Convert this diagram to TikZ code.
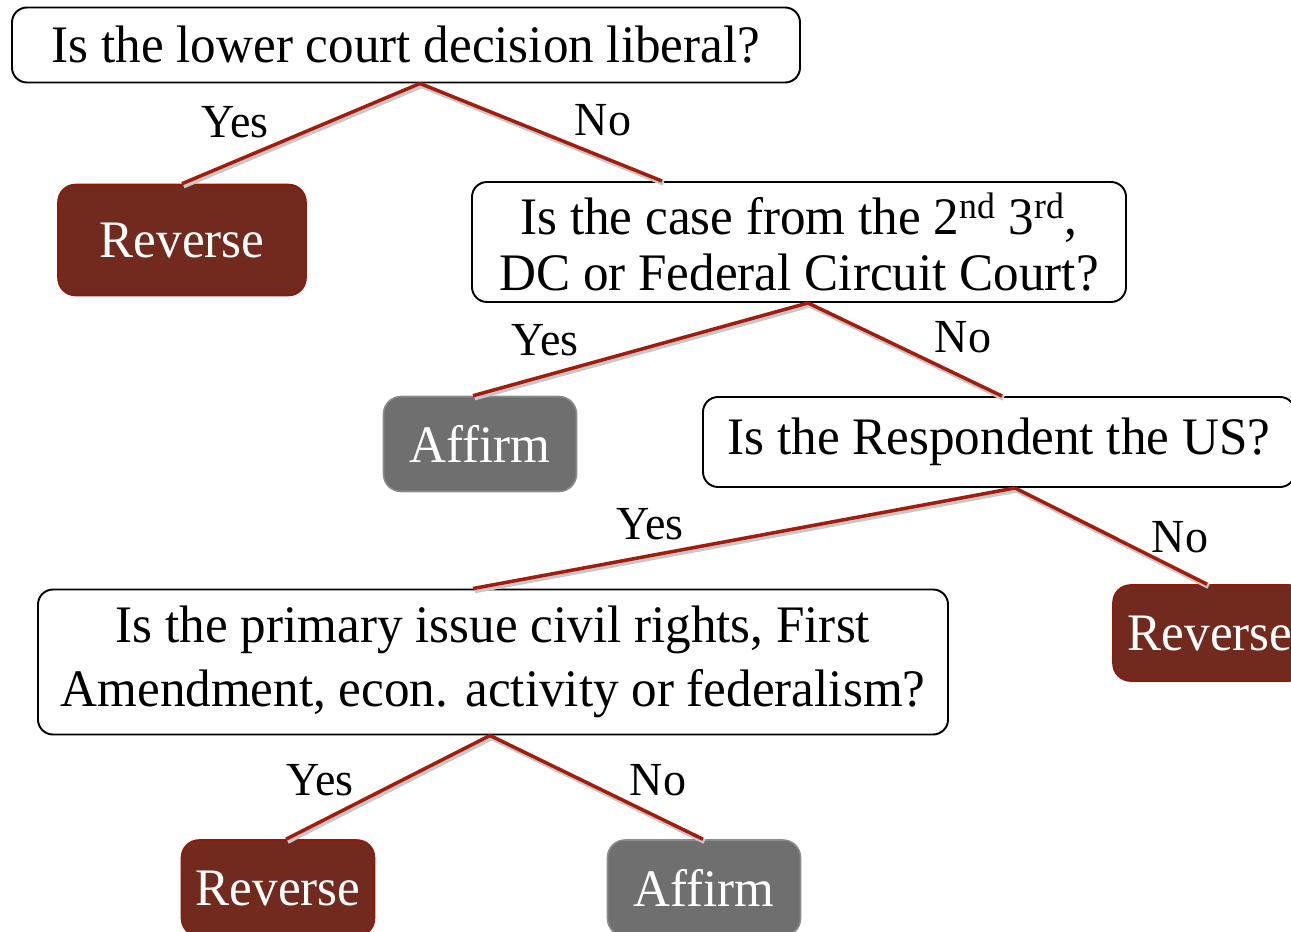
\documentclass[tikz,border=0pt]{standalone}
\usepackage{fontspec}
\setmainfont{Liberation Serif}[FakeStretch=0.97]
\definecolor{branchred}{HTML}{A21D0E}
\definecolor{revfill}{HTML}{722A1E}
\definecolor{revdraw}{HTML}{8E1A0C}
\definecolor{afffill}{HTML}{6F6F6F}
\definecolor{affdraw}{HTML}{8C8C8C}
\begin{document}
\begin{tikzpicture}[x=0.2mm,y=-0.2mm]
\tikzset{
  question/.style={draw,fill=white,rounded corners=3mm,line width=1.1pt,align=center,inner sep=0pt,font=\fontsize{30}{31}\selectfont},
  verdict/.style={rounded corners=3.5mm,line width=0.9pt,text=white,inner sep=0pt,minimum width=38.6mm,minimum height=19.2mm,font=\fontsize{30}{31}\selectfont},
  reverse/.style={verdict,draw=revdraw,fill=revfill},
  affirm/.style={verdict,draw=affdraw,fill=afffill},
  answer/.style={inner sep=0pt,font=\fontsize{27}{28}\selectfont},
  branch/.style={draw=branchred,line width=2pt,
    preaction={draw=black!22,line width=2.8pt,transform canvas={shift={(0.9pt,-1.3pt)}}}}
}
\useasboundingbox (0,0) rectangle (1291,931);
% questions
\node[question,minimum width=157.6mm,minimum height=15mm] (lower) at (406,45) {Is the lower court decision liberal?};
\node[question,minimum width=130.8mm,minimum height=24mm,font=\fontsize{30}{31.5}\selectfont] (circuit) at (799,242)
  {Is the case from the 2\textsuperscript{nd} 3\textsuperscript{rd},\\DC or Federal Circuit Court?};
\node[question,minimum width=118.4mm,minimum height=18mm] (respondent) at (999,442) {Is the Respondent the US?};
\node[question,minimum width=182mm,minimum height=29mm,font=\fontsize{30}{36}\selectfont] (issue) at (493,662)
  {Is the primary issue civil rights, First\\Amendment, econ. activity or federalism?};
% outcomes
\node[reverse,minimum width=49.6mm,minimum height=22.2mm] (rev1) at (182,240) {Reverse};
\node[affirm,minimum height=19mm] (aff1) at (480,444) {Affirm};
\node[reverse,minimum width=38.8mm] (rev2) at (1210,633) {Reverse};
\node[reverse] (rev3) at (278,888) {Reverse};
\node[affirm] (aff2) at (704,888) {Affirm};
% branches
\draw[branch] ([xshift=2.8mm]lower.south) -- (rev1.north);
\draw[branch] ([xshift=2.8mm]lower.south) -- ([xshift=-27.4mm]circuit.north);
\draw[branch] ([xshift=1.8mm]circuit.south) -- ([xshift=-1.4mm]aff1.north);
\draw[branch] ([xshift=1.8mm]circuit.south) -- ([xshift=0.6mm]respondent.north);
\draw[branch] ([xshift=3.2mm]respondent.south) -- ([xshift=-4mm]issue.north);
\draw[branch] ([xshift=3.2mm]respondent.south) -- ([xshift=-0.6mm]rev2.north);
\draw[branch] ([xshift=-0.6mm]issue.south) -- ([xshift=1.6mm]rev3.north);
\draw[branch] ([xshift=-0.6mm]issue.south) -- ([xshift=-0.2mm]aff2.north);
% labels
\node[answer] (yes1) at (235,122) {Yes};
\node[answer] (no1) at (603,120) {No};
\node[answer] (yes2) at (545,340) {Yes};
\node[answer] (no2) at (963,337) {No};
\node[answer] (yes3) at (650,524) {Yes};
\node[answer] (no3) at (1180,537) {No};
\node[answer] (yes4) at (320,780) {Yes};
\node[answer] (no4) at (658,780) {No};
\end{tikzpicture}
\end{document}
